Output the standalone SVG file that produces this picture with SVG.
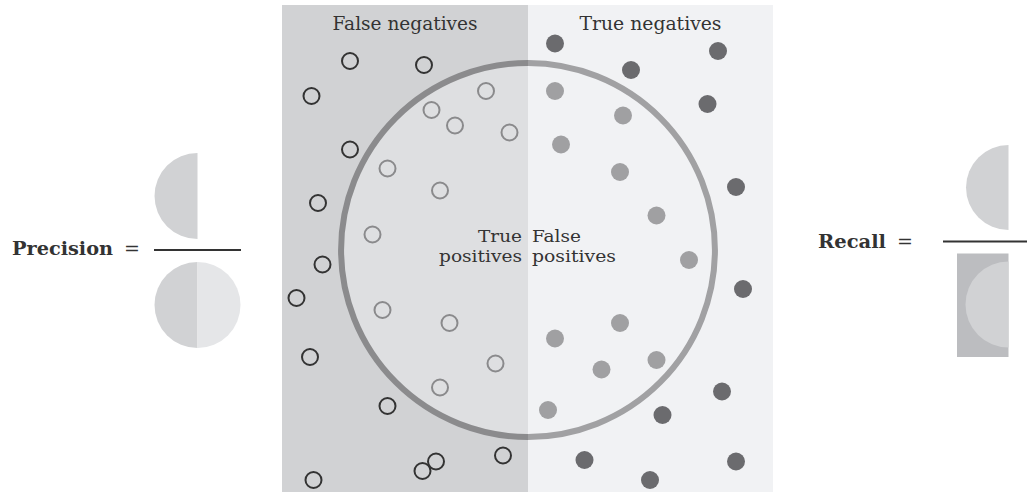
<svg xmlns="http://www.w3.org/2000/svg" width="1027" height="492" viewBox="0 0 1027 492">
<style>
.lbl{font-family:"DejaVu Serif","Liberation Serif",serif;fill:#333;}
.fn{fill:none;stroke:#333;stroke-width:2;}
.tp{fill:none;stroke:#8a8a8c;stroke-width:2;}
.fp{fill:#a0a0a2;}
.tn{fill:#6b6b6e;}
</style>
<rect width="1027" height="492" fill="#ffffff"/>
<g id="panels">
<rect x="282" y="5" width="246" height="487" fill="#d1d2d4"/>
<rect x="528" y="5" width="245" height="487" fill="#f1f2f4"/>
<path d="M528,63 A187,187 0 0,0 528,437 Z" fill="#dedfe1"/>
</g>
<g id="circle">
<path d="M528,63 A187,187 0 0,0 528,437" fill="none" stroke="#8b8b8d" stroke-width="6"/>
<path d="M528,63 A187,187 0 0,1 528,437" fill="none" stroke="#a1a1a3" stroke-width="6"/>
</g>
<g id="false-negatives">
<text class="lbl" x="405" y="30" font-size="19" text-anchor="middle" textLength="145" lengthAdjust="spacingAndGlyphs">False negatives</text>
<circle class="fn" cx="350" cy="61" r="8"/>
<circle class="fn" cx="424" cy="65" r="8"/>
<circle class="fn" cx="311.5" cy="96" r="8"/>
<circle class="fn" cx="350" cy="149.5" r="8"/>
<circle class="fn" cx="318" cy="203" r="8"/>
<circle class="fn" cx="322.5" cy="264.5" r="8"/>
<circle class="fn" cx="296.5" cy="298" r="8"/>
<circle class="fn" cx="310" cy="357" r="8"/>
<circle class="fn" cx="387.5" cy="406" r="8"/>
<circle class="fn" cx="313.5" cy="480" r="8"/>
<circle class="fn" cx="422.5" cy="471" r="8"/>
<circle class="fn" cx="436" cy="461.5" r="8"/>
<circle class="fn" cx="503" cy="455.5" r="8"/>
</g>
<g id="true-positives">
<circle class="tp" cx="486" cy="91" r="8"/>
<circle class="tp" cx="431.5" cy="110" r="8"/>
<circle class="tp" cx="455" cy="125.5" r="8"/>
<circle class="tp" cx="509.5" cy="132.5" r="8"/>
<circle class="tp" cx="387.5" cy="168.5" r="8"/>
<circle class="tp" cx="440" cy="190.5" r="8"/>
<circle class="tp" cx="372.5" cy="234.5" r="8"/>
<circle class="tp" cx="382.5" cy="310" r="8"/>
<circle class="tp" cx="449.5" cy="323" r="8"/>
<circle class="tp" cx="495.5" cy="363.5" r="8"/>
<circle class="tp" cx="440" cy="387.5" r="8"/>
<text class="lbl" x="522" y="242" font-size="16.5" text-anchor="end" textLength="44" lengthAdjust="spacingAndGlyphs">True</text>
<text class="lbl" x="522" y="262" font-size="16.5" text-anchor="end" textLength="83" lengthAdjust="spacingAndGlyphs">positives</text>
</g>
<g id="false-positives">
<circle class="fp" cx="555" cy="91" r="9"/>
<circle class="fp" cx="623" cy="115.5" r="9"/>
<circle class="fp" cx="561" cy="144.5" r="9"/>
<circle class="fp" cx="620" cy="172" r="9"/>
<circle class="fp" cx="656.5" cy="215.5" r="9"/>
<circle class="fp" cx="689" cy="260" r="9"/>
<circle class="fp" cx="620" cy="323" r="9"/>
<circle class="fp" cx="555" cy="338.5" r="9"/>
<circle class="fp" cx="656.5" cy="360" r="9"/>
<circle class="fp" cx="601.5" cy="369.5" r="9"/>
<circle class="fp" cx="548" cy="410" r="9"/>
<text class="lbl" x="532" y="242" font-size="16.5" textLength="49" lengthAdjust="spacingAndGlyphs">False</text>
<text class="lbl" x="532" y="262" font-size="16.5" textLength="84" lengthAdjust="spacingAndGlyphs">positives</text>
</g>
<g id="true-negatives">
<text class="lbl" x="650.5" y="30" font-size="19" text-anchor="middle" textLength="142" lengthAdjust="spacingAndGlyphs">True negatives</text>
<circle class="tn" cx="555" cy="43.5" r="9"/>
<circle class="tn" cx="631" cy="70" r="9"/>
<circle class="tn" cx="718" cy="51" r="9"/>
<circle class="tn" cx="707.5" cy="104" r="9"/>
<circle class="tn" cx="736" cy="187" r="9"/>
<circle class="tn" cx="743" cy="289" r="9"/>
<circle class="tn" cx="722" cy="391.5" r="9"/>
<circle class="tn" cx="662.5" cy="415" r="9"/>
<circle class="tn" cx="584.5" cy="460" r="9"/>
<circle class="tn" cx="736" cy="461.5" r="9"/>
<circle class="tn" cx="650" cy="480" r="9"/>
</g>
<g id="precision">
<text class="lbl" x="12" y="255" font-size="19" font-weight="bold" textLength="101" lengthAdjust="spacingAndGlyphs">Precision</text>
<text class="lbl" x="132" y="255" font-size="19" text-anchor="middle">=</text>
<line x1="154" y1="250" x2="241" y2="250" stroke="#333" stroke-width="2"/>
<path d="M197.5,153 A43,43 0 0,0 197.5,239 Z" fill="#d1d2d4"/>
<path d="M197.5,262 A43,43 0 0,0 197.5,348 Z" fill="#d1d2d4"/>
<path d="M197.5,262 A43,43 0 0,1 197.5,348 Z" fill="#e5e6e8"/>
</g>
<g id="recall">
<text class="lbl" x="818" y="248" font-size="19" font-weight="bold" textLength="68" lengthAdjust="spacingAndGlyphs">Recall</text>
<text class="lbl" x="905" y="248" font-size="19" text-anchor="middle">=</text>
<line x1="943" y1="241.5" x2="1027" y2="241.5" stroke="#333" stroke-width="2"/>
<path d="M1008.5,145 A42.5,42.5 0 0,0 1008.5,230 Z" fill="#d1d2d4"/>
<rect x="957" y="253.5" width="51.5" height="103.5" fill="#bcbdc0"/>
<path d="M1008.5,261.5 A43,43 0 0,0 1008.5,347.5 Z" fill="#d1d2d4"/>
</g>
</svg>
